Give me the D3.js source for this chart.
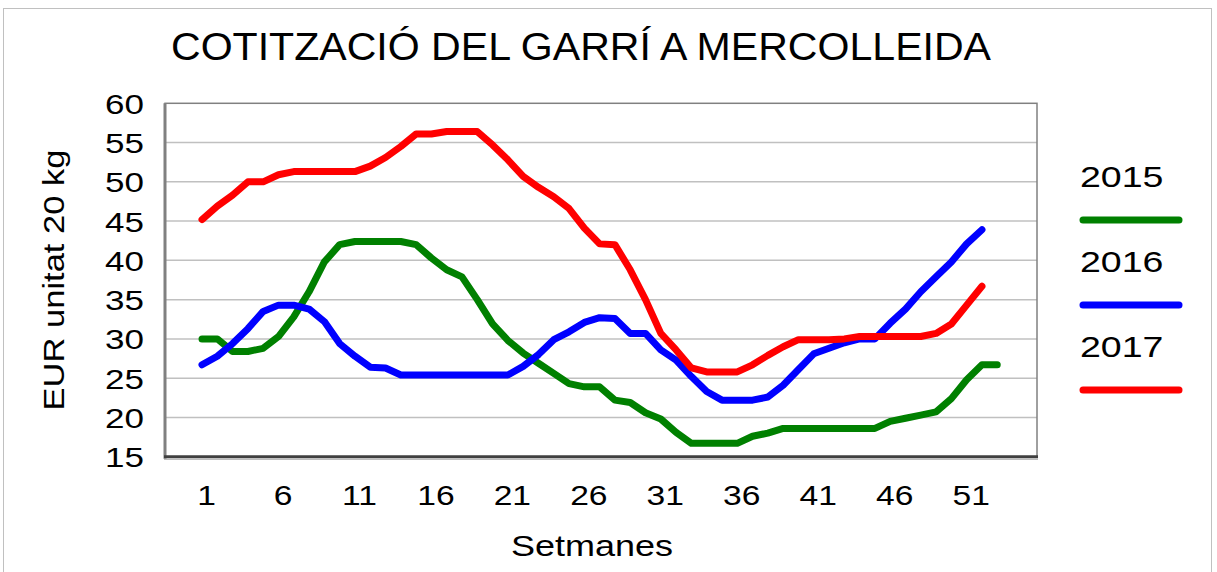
<!DOCTYPE html>
<html>
<head>
<meta charset="utf-8">
<script src="https://cdn.jsdelivr.net/npm/d3@7"></script>
<style>
  body { margin: 0; background: #fff; }
  text { font-family: "Liberation Sans", Arial, sans-serif; fill: #000; }
</style>
</head>
<body>
<div id="chart"></div>
<script>
// weekly price, EUR per 20 kg
var s2015 = [30.0, 30.0, 28.4, 28.4, 28.8, 30.3, 32.8, 36.0, 39.8, 42.0,
  42.4, 42.4, 42.4, 42.4, 42.0, 40.3, 38.8, 37.9, 35.0, 31.9,
  29.8, 28.2, 26.9, 25.6, 24.3, 23.9, 23.9, 22.2, 21.9, 20.6,
  19.8, 18.1, 16.7, 16.7, 16.7, 16.7, 17.6, 18.0, 18.6, 18.6,
  18.6, 18.6, 18.6, 18.6, 18.6, 19.5, 19.9, 20.3, 20.7, 22.4,
  24.8, 26.7, 26.7];
var s2016 = [26.7, 27.8, 29.4, 31.3, 33.5, 34.3, 34.3, 33.8, 32.2, 29.4,
  27.8, 26.4, 26.3, 25.4, 25.4, 25.4, 25.4, 25.4, 25.4, 25.4,
  25.4, 26.5, 28.0, 29.9, 30.9, 32.1, 32.7, 32.6, 30.7, 30.7,
  28.6, 27.3, 25.2, 23.3, 22.2, 22.2, 22.2, 22.6, 24.1, 26.1,
  28.1, 28.8, 29.5, 30.0, 30.0, 32.0, 33.8, 36.0, 37.9, 39.8,
  42.1, 43.9];
var s2017 = [45.2, 46.9, 48.3, 50.0, 50.0, 50.9, 51.3, 51.3, 51.3, 51.3,
  51.3, 52.0, 53.1, 54.5, 56.1, 56.1, 56.4, 56.4, 56.4, 54.7,
  52.8, 50.7, 49.3, 48.1, 46.6, 44.1, 42.1, 42.0, 38.8, 35.0,
  30.7, 28.6, 26.3, 25.8, 25.8, 25.8, 26.7, 27.9, 29.0, 29.9,
  29.9, 29.9, 30.0, 30.3, 30.3, 30.3, 30.3, 30.3, 30.7, 31.9,
  34.3, 36.7];
var seriesNames = ["2015", "2016", "2017"];
var seriesColors = ["#008000", "#0000ff", "#ff0000"];
var xTicks = [1, 6, 11, 16, 21, 26, 31, 36, 41, 46, 51];
var yTicks = [15, 20, 25, 30, 35, 40, 45, 50, 55, 60];

var width = 1217, height = 572;
var plotLeft = 165, plotRight = 1037, plotTop = 103.3, plotBottom = 456.7;

var svg = d3.select("#chart").append("svg")
    .attr("width", width)
    .attr("height", height);

// stretch text horizontally, the original labels are drawn wide
function stretch(sel, k) {
  sel.each(function() {
    var w = this.getComputedTextLength();
    d3.select(this).attr("textLength", w * k).attr("lengthAdjust", "spacingAndGlyphs");
  });
}

svg.append("rect")
    .attr("x", 3.5).attr("y", 8.5)
    .attr("width", 1208).attr("height", 600)
    .attr("fill", "none").attr("stroke", "#c0c0c0");

var x = d3.scaleLinear().domain([-1.42, 55.6]).range([plotLeft, plotRight]);
var y = d3.scaleLinear().domain([15, 60]).range([plotBottom, plotTop]);

// grid
svg.append("g").selectAll("line")
    .data(yTicks.slice(1, -1))
    .enter().append("line")
    .attr("x1", plotLeft).attr("x2", plotRight)
    .attr("y1", function(d) { return y(d); })
    .attr("y2", function(d) { return y(d); })
    .attr("stroke", "#c0c0c0")
    .attr("stroke-width", 1.5);

svg.append("rect")
    .attr("x", plotLeft).attr("y", plotTop)
    .attr("width", plotRight - plotLeft).attr("height", plotBottom - plotTop)
    .attr("fill", "none").attr("stroke", "#808080").attr("stroke-width", 1.5);

// lines
var line = d3.line()
    .x(function(d, i) { return x(i + 1); })
    .y(function(d) { return y(d); });

[s2015, s2016, s2017].forEach(function(s, i) {
  svg.append("path")
      .attr("d", line(s))
      .attr("fill", "none")
      .attr("stroke", seriesColors[i])
      .attr("stroke-width", 7)
      .attr("stroke-linejoin", "round")
      .attr("stroke-linecap", "round");
});

// axes
var axisY = svg.append("g")
    .attr("transform", "translate(" + plotLeft + ",0)")
    .call(d3.axisLeft(y).tickValues(yTicks).tickSize(0).tickPadding(21));
axisY.select(".domain").remove();
axisY.selectAll("text")
    .attr("font-size", 28)
    .attr("font-family", null)
    .attr("dy", "0.36em")
    .call(stretch, 1.25);

var axisX = svg.append("g")
    .attr("transform", "translate(0," + plotBottom + ")")
    .call(d3.axisBottom(x).tickValues(xTicks).tickSize(0));
axisX.select(".domain").remove();
axisX.selectAll("text")
    .attr("font-size", 28)
    .attr("font-family", null)
    .attr("y", 48).attr("dy", null).attr("dx", 4)
    .call(stretch, 1.2);

svg.append("line")
    .attr("x1", plotLeft).attr("x2", plotLeft)
    .attr("y1", plotTop).attr("y2", plotBottom + 2)
    .attr("stroke", "#808080").attr("stroke-width", 3);
svg.append("line")
    .attr("x1", plotLeft - 1).attr("x2", plotRight + 1)
    .attr("y1", plotBottom).attr("y2", plotBottom)
    .attr("stroke", "#404040").attr("stroke-width", 3);
svg.append("line")
    .attr("x1", plotLeft - 1).attr("x2", plotRight + 1)
    .attr("y1", plotBottom + 2.5).attr("y2", plotBottom + 2.5)
    .attr("stroke", "#a0a0a0").attr("stroke-width", 1);

// titles
svg.append("text")
    .attr("x", 171).attr("y", 60)
    .attr("font-size", 38)
    .attr("textLength", 820).attr("lengthAdjust", "spacingAndGlyphs")
    .text("COTITZACIÓ DEL GARRÍ A MERCOLLEIDA");

svg.append("text")
    .attr("x", 592).attr("y", 556)
    .attr("text-anchor", "middle")
    .attr("font-size", 30)
    .text("Setmanes")
    .call(stretch, 1.2);

svg.append("text")
    .attr("transform", "translate(64,280) rotate(-90)")
    .attr("text-anchor", "middle")
    .attr("font-size", 30)
    .text("EUR unitat 20 kg")
    .call(stretch, 1.15);

// legend
var legend = svg.append("g").selectAll("g")
    .data(seriesNames)
    .enter().append("g")
    .attr("transform", function(d, i) { return "translate(1080," + (187 + i * 85) + ")"; });
legend.append("text")
    .attr("font-size", 30)
    .text(function(d) { return d; })
    .call(stretch, 1.25);
legend.append("line")
    .attr("x1", 3).attr("x2", 99)
    .attr("y1", 33).attr("y2", 33)
    .attr("stroke", function(d, i) { return seriesColors[i]; })
    .attr("stroke-width", 7)
    .attr("stroke-linecap", "round");
</script>
</body>
</html>
